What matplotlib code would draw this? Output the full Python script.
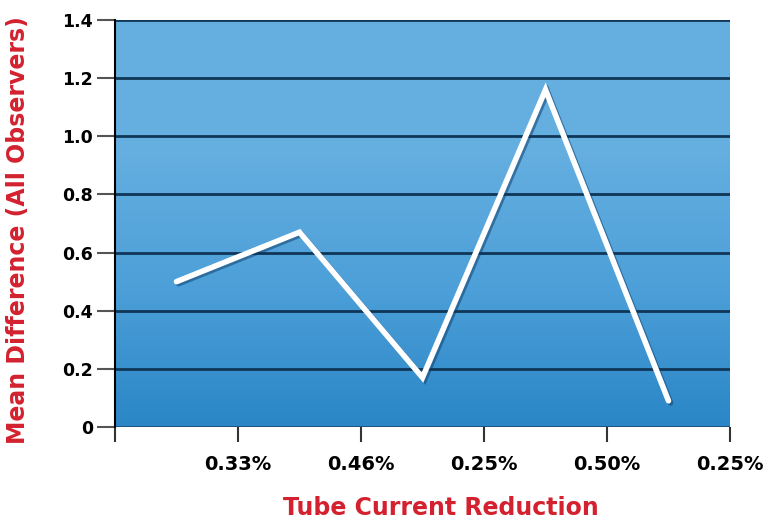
import numpy as np
import matplotlib
matplotlib.use("Agg")
import matplotlib.pyplot as plt
import matplotlib.patheffects as pe
from matplotlib.colors import LinearSegmentedColormap

# Data
tick_labels = ["", "0.33%", "0.46%", "0.25%", "0.50%", "0.25%"]
values = [0.50, 0.67, 0.17, 1.16, 0.09]
y_ticks = [0, 0.2, 0.4, 0.6, 0.8, 1.0, 1.2, 1.4]
y_tick_labels = ["0", "0.2", "0.4", "0.6", "0.8", "1.0", "1.2", "1.4"]

RED = "#d3212f"

fig = plt.figure(figsize=(7.65, 5.22), dpi=100)
ax = fig.add_axes([115/765, 1-427/522, (730-115)/765, (427-20)/522])

x_ticks = np.arange(len(tick_labels))
x_pts = np.arange(len(values)) + 0.5

ax.set_xlim(0, len(tick_labels) - 1)
ax.set_ylim(0, 1.4)

# gradient background
cmap = LinearSegmentedColormap.from_list("bg", ["#2a86c6", "#4c9fd8", "#64aee0", "#66b0e1"])
grad = np.linspace(0, 1, 256).reshape(-1, 1)
ax.imshow(grad, cmap=cmap, origin="lower", aspect="auto",
          extent=[0, len(tick_labels) - 1, 0, 1.4], zorder=0)

for yv in y_ticks[1:]:
    ax.axhline(yv, color="#0f3656", lw=2.0, zorder=1)
ax.axhline(0, color="#1d4f78", lw=2.0, zorder=1)

ax.plot(x_pts, values, color="white", lw=4.0, solid_capstyle="round",
        solid_joinstyle="miter", zorder=3,
        path_effects=[pe.SimpleLineShadow(offset=(1.5, -1.5), shadow_color="#0b3a66", alpha=0.5),
                      pe.Normal()])

ax.set_xticks(x_ticks)
ax.set_xticklabels(tick_labels, fontsize=14, fontweight="bold", family="DejaVu Sans")
ax.set_yticks(y_ticks)
ax.set_yticklabels(y_tick_labels, fontsize=12.5, fontweight="bold", family="DejaVu Sans")

ax.tick_params(axis="y", length=13, width=1.5, color="#555555", pad=3)
ax.tick_params(axis="x", length=11, width=1.5, color="#333333", pad=9)

for s in ["top", "right", "bottom"]:
    ax.spines[s].set_visible(False)
ax.spines["left"].set_color("black")
ax.spines["left"].set_linewidth(1.5)
ax.spines["left"].set_zorder(4)

fig.text(441/765, 1-508/522, "Tube Current Reduction", color=RED, fontsize=17,
         fontweight="bold", ha="center", va="center")
fig.text(18/765, 1-230/522, "Mean Difference (All Observers)", color=RED, fontsize=17,
         fontweight="bold", ha="center", va="center", rotation=90)

fig.savefig("out.png", dpi=100)
